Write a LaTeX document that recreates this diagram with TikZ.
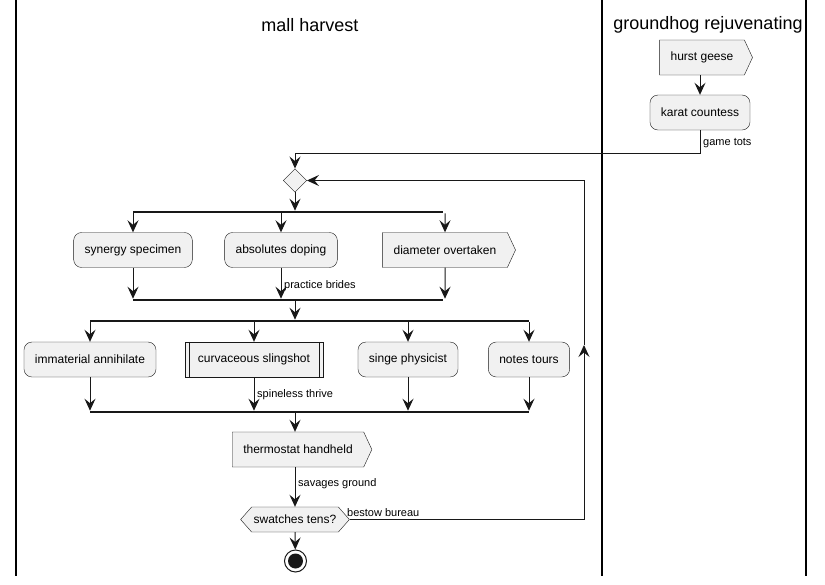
\documentclass[tikz,border=0pt]{standalone}
\usepackage{fontspec}
\setmainfont{Liberation Sans}
\usepackage{tikz}
\usetikzlibrary{arrows.meta, calc, shapes.geometric, shapes.symbols, positioning}
\definecolor{umlfill}{RGB}{241, 241, 241}
\definecolor{umlline}{RGB}{24, 24, 24}

\tikzset{
  boxfont/.style={font=\fontsize{12}{14}\selectfont},
  act/.style={boxfont, draw=umlline, fill=umlfill, rounded corners=8pt,
    minimum height=35pt, inner xsep=11pt},
  sub/.style={boxfont, draw=umlline, fill=umlfill, minimum height=35pt, inner xsep=13pt},
  sig/.style={boxfont, signal, signal to=east, signal pointer angle=130, draw=umlline,
    fill=umlfill, minimum height=35pt, inner xsep=11pt},
  hexa/.style={boxfont, signal, signal to=east and west, signal pointer angle=97,
    draw=umlline, fill=umlfill, minimum height=25pt, inner xsep=2pt},
  merge/.style={diamond, draw=umlline, fill=umlfill, minimum size=23.5pt, inner sep=0pt},
  bar/.style={fill=umlline, inner sep=0pt, minimum height=2.2pt},
  stopring/.style={circle, draw=umlline, line width=1pt, minimum size=22pt, inner sep=0pt},
  flow/.style={draw=umlline, line width=1pt, -{Stealth[length=12pt, width=11pt, inset=4.5pt]}},
  lbl/.style={font=\fontsize{11}{13}\selectfont, anchor=west, inner sep=1pt},
  lane/.style={line width=1.5pt, black},
  title/.style={font=\fontsize{18}{21}\selectfont}
}

\begin{document}
\begin{tikzpicture}[x=1pt, y=-1pt]

  \useasboundingbox (0, 0) rectangle (825, 584);

  % Swimlanes
  \draw[lane] (16, 0) -- (16, 576);
  \draw[lane] (602, 0) -- (602, 576);
  \draw[lane] (806, 0) -- (806, 576);
  \node[title] (tmall)  at (310, 25) {mall harvest};
  \node[title] (tground) at (708, 25) {groundhog rejuvenating};

  % Right lane
  \node[sig] (geese)  at (702, 57.5) {hurst geese};
  \node[act] (karat)  at (700, 112.5) {karat countess};

  % Merge point
  \node[merge] (diam) at (295, 180.5) {};

  % First fork
  \node[bar, minimum width=310pt] (fork1) at (288, 212) {};
  \node[act] (syn)  at (133, 250) {synergy specimen};
  \node[act] (abso) at (281, 250) {absolutes doping};
  \node[sig] (dia)  at (445, 250) {diameter overtaken};
  \node[bar, minimum width=310pt] (join1) at (288, 300) {};

  % Second fork
  \node[bar, minimum width=439pt] (fork2) at (309.5, 321) {};
  \node[act] (imm)   at (90, 359.5) {immaterial annihilate};
  \node[sub] (curv)  at (254, 359.5) {curvaceous slingshot};
  \node[act] (singe) at (408, 359.5) {singe physicist};
  \node[act] (notes) at (529, 359.5) {notes tours};
  \node[bar, minimum width=439pt] (join2) at (309.5, 412) {};

  % Subroutine edges
  \draw[umlline] ([xshift=4pt]curv.north west) -- ([xshift=4pt]curv.south west);
  \draw[umlline] ([xshift=-4pt]curv.north east) -- ([xshift=-4pt]curv.south east);

  % Tail
  \node[sig]  (thermo) at (298, 449.5) {thermostat handheld};
  \node[hexa] (test)   at (295, 519.5) {swatches tens?};
  \node[stopring] (stop) at (295.5, 561) {};
  \fill[umlline] (stop.center) circle (7.5pt);

  % Connectors
  \draw[flow] (geese.south -| karat) -- (karat);
  \draw[flow] (karat.south) -- ++(0, 23) -| (diam.north);
  \draw[flow] (diam.south) -- (diam.south |- fork1.north);
  \foreach \n in {syn, abso, dia} {
    \draw[flow] (fork1.south -| \n) -- (\n);
    \draw[flow] (\n) -- (\n |- join1.north);
  }
  \draw[flow] (join1.south -| diam) -- (fork2.north -| diam);
  \foreach \n in {imm, curv, singe, notes} {
    \draw[flow] (fork2.south -| \n) -- (\n);
    \draw[flow] (\n) -- (\n |- join2.north);
  }
  \draw[flow] (join2.south -| diam) -- (thermo.north -| diam);
  \draw[flow] (thermo.south -| diam) -- (test.north -| diam);
  \draw[flow] (test.south -| diam) -- (stop);

  % Loop back
  \coordinate (loop) at (584, 345);
  \draw[flow] (test.east) -| (loop);
  \draw[flow] (loop) |- (diam.east);

  % Edge labels
  \node[lbl] (lgame)   at (702, 143) {game tots};
  \node[lbl] (lprac)   at (283, 286) {practice brides};
  \node[lbl] (lspine)  at (256, 395) {spineless thrive};
  \node[lbl] (lsavage) at (297, 484) {savages ground};
  \node[lbl] (lbestow) at (346, 512.5) {bestow bureau};

\end{tikzpicture}
\end{document}
